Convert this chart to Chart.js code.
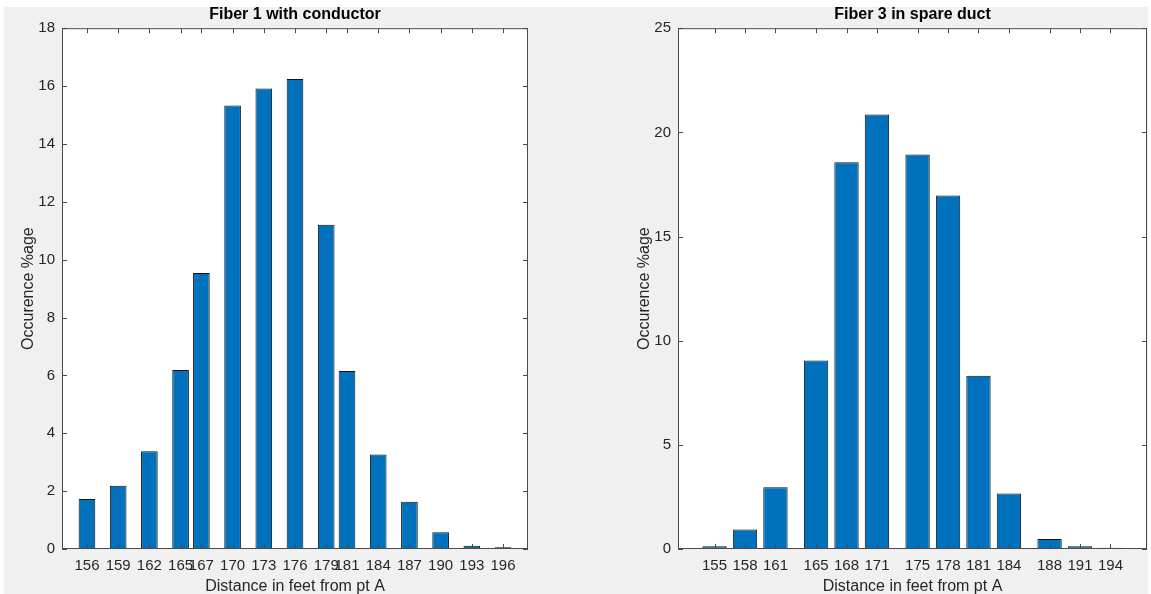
<!DOCTYPE html>
<html>
<head>
<meta charset="utf-8">
<script src="https://cdn.jsdelivr.net/npm/chart.js@4"></script>
<style>
  html, body { margin: 0; padding: 0; background: #ffffff; }
  #fig { position: relative; width: 1151px; height: 594px; overflow: hidden; }
  #bg { position: absolute; left: 4px; top: 7px; width: 1144px; height: 587px; background: #f0f0f0; }
  canvas { position: absolute; top: 0; }
  #left { left: 0; }
  #right { left: 575px; }
</style>
</head>
<body>
<div id="fig">
  <div id="bg"></div>
  <canvas id="left" width="575" height="594"></canvas>
  <canvas id="right" width="576" height="594"></canvas>
</div>
<script>
// Fiber 1 with conductor
const distances1 = [156, 159, 162, 165, 167, 170, 173, 176, 179, 181, 184, 187, 190, 193, 196];
const occurence1 = [1.73, 2.19, 3.38, 6.19, 9.54, 15.33, 15.92, 16.24, 11.21, 6.15, 3.27, 1.63, 0.58, 0.11, 0.06];

// Fiber 3 in spare duct
const distances3 = [155, 158, 161, 165, 168, 171, 175, 178, 181, 184, 188, 191, 194];
const occurence3 = [0.13, 0.94, 2.96, 9.05, 18.56, 20.86, 18.94, 16.97, 8.32, 2.67, 0.48, 0.13, 0.06];

const barColor = "#0072bd";
const axisColor = "#4a4a4a";
const textColor = "#262626";
const fontFamily = "'Liberation Sans', Arial, Helvetica, sans-serif";

// white plot box, frame and inward ticks like matlab
const matlabAxes = {
  id: "matlabAxes",
  beforeDatasetsDraw(chart) {
    const { ctx, chartArea: a } = chart;
    ctx.save();
    ctx.fillStyle = "#ffffff";
    ctx.fillRect(a.left, a.top, a.right - a.left, a.bottom - a.top);
    ctx.restore();
  },
  afterDatasetsDraw(chart) {
    const { ctx, chartArea: a, scales } = chart;
    const tl = 5;
    ctx.save();
    ctx.strokeStyle = axisColor;
    ctx.lineWidth = 1;
    ctx.beginPath();
    scales.x.ticks.forEach((t) => {
      const px = Math.round(scales.x.getPixelForValue(t.value)) + 0.5;
      ctx.moveTo(px, a.bottom); ctx.lineTo(px, a.bottom - tl);
      ctx.moveTo(px, a.top); ctx.lineTo(px, a.top + tl);
    });
    scales.y.ticks.forEach((t) => {
      const py = Math.round(scales.y.getPixelForValue(t.value)) + 0.5;
      ctx.moveTo(a.left, py); ctx.lineTo(a.left + tl, py);
      ctx.moveTo(a.right, py); ctx.lineTo(a.right - tl, py);
    });
    ctx.stroke();
    ctx.strokeRect(a.left + 0.5, a.top + 0.5, a.right - a.left - 1, a.bottom - a.top - 1);
    ctx.restore();
  },
};

function makeChart(id, title, xs, ys, xr, yMax, yStep, yAxisWidth, rightPad, yTitlePad) {
  const ctx = document.getElementById(id).getContext("2d");
  return new Chart(ctx, {
    type: "bar",
    data: {
      datasets: [
        {
          data: xs.map((d, i) => ({ x: d, y: ys[i] })),
          backgroundColor: barColor,
          borderColor: "#111111",
          borderWidth: 1,
          categoryPercentage: 1,
          barPercentage: 0.8,
        },
      ],
    },
    options: {
      responsive: false,
      animation: false,
      layout: { padding: { left: 0, right: rightPad, top: 0, bottom: 0 } },
      plugins: {
        legend: { display: false },
        tooltip: { enabled: false },
        title: {
          display: true,
          text: title,
          fullSize: false,
          color: "#000000",
          font: { family: fontFamily, size: 16, weight: "bold" },
          padding: { top: 5, bottom: 4 },
        },
      },
      scales: {
        x: {
          type: "linear",
          offset: false,
          min: xr[0],
          max: xr[1],
          grid: { display: false, drawTicks: false },
          border: { display: false },
          afterBuildTicks: (scale) => {
            scale.ticks = xs.map((v) => ({ value: v }));
          },
          afterFit: (scale) => {
            scale.height = 45;
          },
          ticks: {
            autoSkip: false,
            maxRotation: 0,
            minRotation: 0,
            padding: 8,
            color: textColor,
            font: { family: fontFamily, size: 15 },
          },
          title: {
            display: true,
            text: "Distance in feet from pt A",
            color: textColor,
            font: { family: fontFamily, size: 16 },
            padding: { top: 0, bottom: -2 },
          },
        },
        y: {
          min: 0,
          max: yMax,
          grid: { display: false, drawTicks: false },
          border: { display: false },
          afterFit: (scale) => {
            scale.width = yAxisWidth;
          },
          ticks: {
            stepSize: yStep,
            padding: 7,
            color: textColor,
            font: { family: fontFamily, size: 15 },
          },
          title: {
            display: true,
            text: "Occurence %age",
            color: textColor,
            font: { family: fontFamily, size: 16 },
            padding: { top: yTitlePad, bottom: 0 },
          },
        },
      },
    },
    plugins: [matlabAxes],
  });
}

makeChart("left", "Fiber 1 with conductor", distances1, occurence1, [153.6, 198.4], 18, 2, 62, 47, 19);
makeChart("right", "Fiber 3 in spare duct", distances3, occurence3, [151.4, 197.6], 25, 5, 103, 4, 60);
</script>
</body>
</html>
